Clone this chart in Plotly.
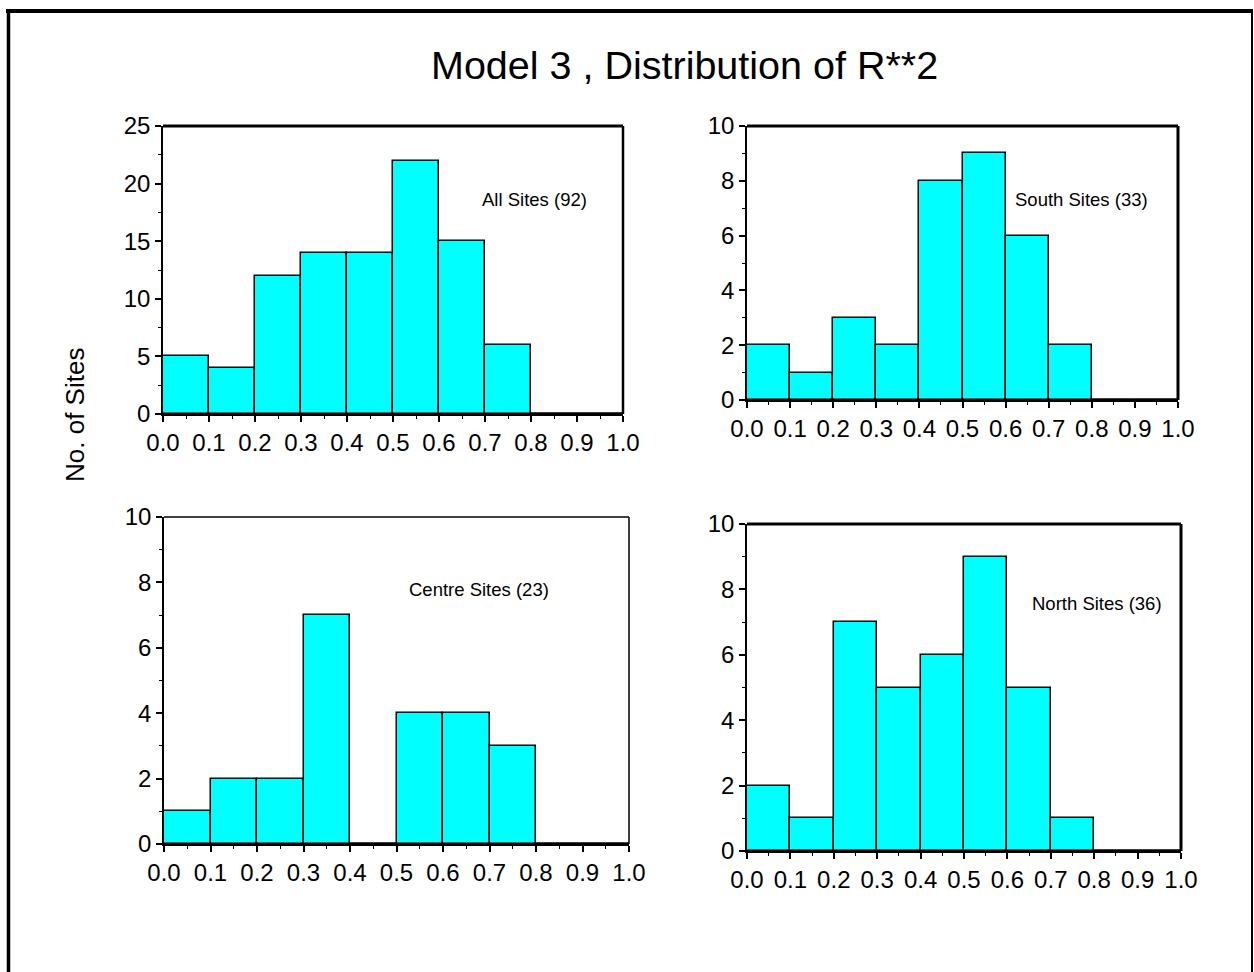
import plotly.graph_objects as go

W, H = 1254, 972

# ---------------- data ----------------
bin_edges = [0.0, 0.1, 0.2, 0.3, 0.4, 0.5, 0.6, 0.7, 0.8, 0.9, 1.0]
x_tick_labels = ["0.0", "0.1", "0.2", "0.3", "0.4", "0.5", "0.6", "0.7", "0.8", "0.9", "1.0"]

all_sites = [5, 4, 12, 14, 14, 22, 15, 6, 0, 0]
south_sites = [2, 1, 3, 2, 8, 9, 6, 2, 0, 0]
centre_sites = [1, 2, 2, 7, 0, 4, 4, 3, 0, 0]
north_sites = [2, 1, 7, 5, 6, 9, 5, 1, 0, 0]

panel_labels = ["All Sites (92)", "South Sites (33)", "Centre Sites (23)", "North Sites (36)"]
y_max = [25, 10, 10, 10]
y_dtick = [5, 2, 2, 2]
y_minor_dtick = [2.5, 1, 1, 1]

title_text = "Model 3 , Distribution of R**2"
y_title_text = "No. of Sites"

# ---------------- layout helpers ----------------
FONT = "Liberation Sans, Arial, sans-serif"
CYAN = "#00FFFF"

boxes = [(163, 623, 126, 414), (747, 1178, 126, 400), (164, 629, 517, 844), (747, 1181, 524, 851)]
label_pos = [(534, 200), (1081, 200), (479, 589), (1097, 603)]
top_w = [3, 3, 1.5, 3]
right_w = [2.5, 3, 1.5, 3]


def px(x):
    return x / W


def py(y):
    return 1 - y / H


series = [all_sites, south_sites, centre_sites, north_sites]
centers = [(bin_edges[i] + bin_edges[i + 1]) / 2 for i in range(len(bin_edges) - 1)]
widths = [bin_edges[i + 1] - bin_edges[i] for i in range(len(bin_edges) - 1)]

fig = go.Figure()
shapes = []
annotations = []

for k, vals in enumerate(series):
    n = "" if k == 0 else str(k + 1)
    xa, ya = "x" + n, "y" + n
    fig.add_trace(go.Bar(
        x=centers, y=vals, width=widths, xaxis=xa, yaxis=ya,
        marker=dict(color=CYAN, line=dict(color="black", width=1.5)),
        showlegend=False,
    ))
    # zero-count bins drawn as a flat outline on the axis
    zx, zy = [], []
    for i, v in enumerate(vals):
        if v == 0:
            zx += [bin_edges[i], bin_edges[i + 1], None]
            zy += [v, v, None]
    if zx:
        fig.add_trace(go.Scatter(x=zx, y=zy, xaxis=xa, yaxis=ya, mode="lines",
                                 line=dict(color="black", width=3), showlegend=False,
                                 hoverinfo="skip", cliponaxis=False))
    l, r, t, b = boxes[k]
    fig.layout["xaxis" + n] = dict(
        domain=[px(l), px(r)], anchor=ya, range=[bin_edges[0], bin_edges[-1]],
        tickvals=bin_edges, ticktext=x_tick_labels, automargin=False,
        ticks="outside", ticklen=6, tickwidth=1.5, tickcolor="black",
        minor=dict(ticks="outside", dtick=0.05, ticklen=3, tickwidth=1.2, tickcolor="black"),
        showline=True, linecolor="black", linewidth=1.5,
        showgrid=False, zeroline=False,
        tickfont=dict(family=FONT, size=24, color="black"),
    )
    fig.layout["yaxis" + n] = dict(
        domain=[py(b), py(t)], anchor=xa, range=[0, y_max[k]], automargin=False,
        dtick=y_dtick[k], tick0=0,
        ticks="outside", ticklen=6, tickwidth=1.5, tickcolor="black",
        minor=dict(ticks="outside", dtick=y_minor_dtick[k], ticklen=3, tickwidth=1.2, tickcolor="black"),
        showline=True, linecolor="black", linewidth=1.5,
        showgrid=False, zeroline=False,
        tickfont=dict(family=FONT, size=24, color="black"),
    )
    shapes.append(dict(type="line", xref=xa + " domain", yref=ya + " domain",
                       x0=0, x1=1, y0=1, y1=1, line=dict(color="black", width=top_w[k])))
    shapes.append(dict(type="line", xref=xa + " domain", yref=ya + " domain",
                       x0=1, x1=1, y0=0, y1=1, line=dict(color="black", width=right_w[k])))
    ax, ay = label_pos[k]
    annotations.append(dict(text=panel_labels[k], xref="paper", yref="paper",
                            x=px(ax), y=py(ay), xanchor="center", yanchor="middle",
                            showarrow=False, font=dict(family=FONT, size=18.5, color="black")))

# outer frame
shapes.append(dict(type="line", xref="paper", yref="paper", x0=px(6), x1=px(1253),
                   y0=py(11), y1=py(11), line=dict(color="black", width=4)))
shapes.append(dict(type="line", xref="paper", yref="paper", x0=px(8.5), x1=px(8.5),
                   y0=py(9), y1=py(990), line=dict(color="black", width=3.5)))
shapes.append(dict(type="line", xref="paper", yref="paper", x0=px(1252), x1=px(1252),
                   y0=py(9), y1=py(990), line=dict(color="black", width=2)))

annotations.append(dict(text=title_text, xref="paper", yref="paper", x=px(684), y=py(65),
                        xanchor="center", yanchor="middle", showarrow=False,
                        font=dict(family=FONT, size=39.5, color="black")))
annotations.append(dict(text=y_title_text, xref="paper", yref="paper", x=px(75), y=py(415),
                        xanchor="center", yanchor="middle", textangle=-90, showarrow=False,
                        font=dict(family=FONT, size=26, color="black")))

fig.update_layout(
    width=W, height=H, margin=dict(l=0, r=0, t=0, b=0, pad=0, autoexpand=False),
    autosize=False, showlegend=False,
    paper_bgcolor="white", plot_bgcolor="white",
    shapes=shapes, annotations=annotations, bargap=0,
    font=dict(family=FONT, color="black"),
)

fig.write_html("out.html", config={"displayModeBar": False, "responsive": False},
               post_script="document.body.style.margin='0';document.body.style.padding='0';document.body.style.overflow='hidden';")
